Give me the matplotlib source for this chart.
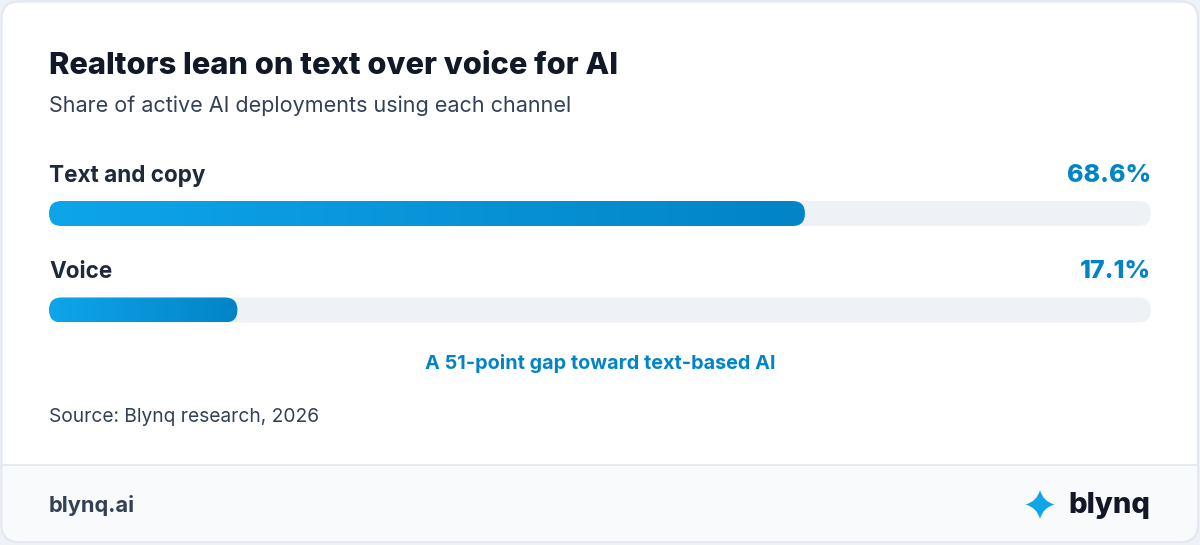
import numpy as np
import matplotlib.pyplot as plt
from matplotlib.patches import FancyBboxPatch, PathPatch, Rectangle
from matplotlib.path import Path
from matplotlib.colors import LinearSegmentedColormap

plt.rcParams['font.family'] = ['Inter', 'DejaVu Sans']

# data
channels = ['Text and copy', 'Voice']
shares = [68.6, 17.1]
value_labels = ['68.6%', '17.1%']
title = 'Realtors lean on text over voice for AI'
subtitle = 'Share of active AI deployments using each channel'
note = 'A 51-point gap toward text-based AI'
source = 'Source: Blynq research, 2026'

W, H = 1200, 545
fig = plt.figure(figsize=(W / 100, H / 100), dpi=100, facecolor='#eef2f6')

# background axes in pixel units
bg = fig.add_axes([0, 0, 1, 1])
bg.set_xlim(0, W)
bg.set_ylim(H, 0)
bg.axis('off')

card = FancyBboxPatch((1.5, 1.5), W - 3.5, H - 4.5,
                      boxstyle='round,pad=0,rounding_size=18',
                      fc='white', ec='#e2e8f0', lw=1.2, zorder=1)
bg.add_patch(card)
footer = Rectangle((0, 465), W, 80, fc='#f8fafc', ec='none', zorder=2)
bg.add_patch(footer)
footer.set_clip_path(card)
bg.plot([2, W - 2.5], [465, 465], color='#e2e8f0', lw=1.2, zorder=3)
# redraw the card edge on top of the footer fill
edge = FancyBboxPatch((1.5, 1.5), W - 3.5, H - 4.5,
                      boxstyle='round,pad=0,rounding_size=18',
                      fc='none', ec='#e2e8f0', lw=1.2, zorder=4)
bg.add_patch(edge)

bg.text(49, 74, title, fontsize=22.2, fontweight=800, color='#111827', va='baseline')
bg.text(49, 112, subtitle, fontsize=15.5, color='#334155', va='baseline')
bg.text(600, 369, note, fontsize=14.3, fontweight='bold', color='#0284c7',
        ha='center', va='baseline')
bg.text(49, 422, source, fontsize=13.8, color='#334155', va='baseline')
bg.text(49, 512, 'blynq.ai', fontsize=15.7, fontweight='bold', color='#334155', va='baseline')
bg.text(1150, 513, 'blynq', fontsize=21, fontweight=800, color='#111827',
        ha='right', va='baseline')

# sparkle logo
cx, cy, r, k = 1040, 504.5, 14.5, 3.0
verts = [(cx, cy - r), (cx + k, cy - k), (cx + r, cy), (cx + k, cy + k),
         (cx, cy + r), (cx - k, cy + k), (cx - r, cy), (cx - k, cy - k),
         (cx, cy - r), (cx, cy - r)]
codes = [Path.MOVETO] + [Path.CURVE3] * 8 + [Path.CLOSEPOLY]
bg.add_patch(PathPatch(Path(verts, codes), fc='#0ea5e9', ec='none', zorder=5))

# bar axes: x in percent, y in pixels
x0, x1 = 49, 1151
ax = fig.add_axes([x0 / W, 0, (x1 - x0) / W, 1])
ax.axis('off')
px_per_unit = (x1 - x0) / 100
bar_h = 25
radius = bar_h / 2
row_y = [213.5, 310]
cmap = LinearSegmentedColormap.from_list('blue', ['#0ea5e9', '#0284c7'])
grad = np.linspace(0, 1, 256).reshape(1, -1)

for name, val, lab, yc in zip(channels, shares, value_labels, row_y):
    top = yc - bar_h / 2
    track = FancyBboxPatch((0, top), 100, bar_h,
                           boxstyle=f'round,pad=0,rounding_size={radius / px_per_unit}',
                           mutation_aspect=px_per_unit, fc='#eef2f7', ec='none')
    ax.add_patch(track)
    bar = FancyBboxPatch((0, top), val, bar_h,
                         boxstyle=f'round,pad=0,rounding_size={radius / px_per_unit}',
                         mutation_aspect=px_per_unit, fc='none', ec='none')
    ax.add_patch(bar)
    im = ax.imshow(grad, extent=[0, val, top + bar_h, top], cmap=cmap,
                   aspect='auto', interpolation='bicubic', zorder=2)
    im.set_clip_path(bar)
    ax.text(0, top - 19, name, fontsize=16.2, fontweight='bold', color='#1e293b', va='baseline')
    ax.text(100, top - 19, lab, fontsize=18, fontweight=800, color='#0284c7',
            ha='right', va='baseline')

ax.set_xlim(0, 100)
ax.set_ylim(H, 0)

fig.savefig('out.png', dpi=100, facecolor=fig.get_facecolor())
